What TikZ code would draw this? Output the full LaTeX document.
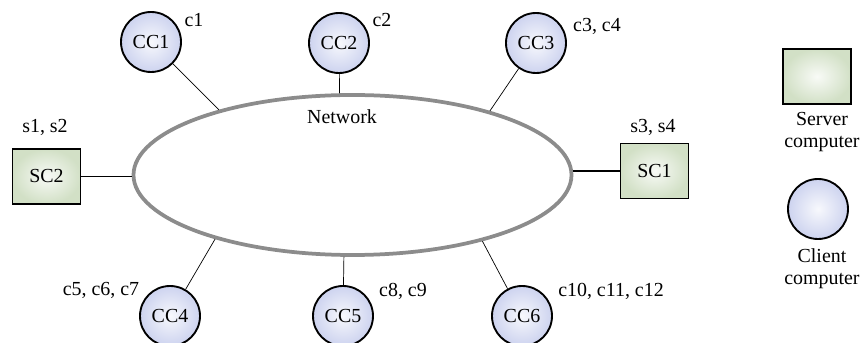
\documentclass[tikz,border=0pt]{standalone}
\usepackage{fontspec}
\setmainfont{Liberation Serif}
\usepackage{xcolor}
\usetikzlibrary{shapes.geometric}
\usetikzlibrary{calc}
\definecolor{clientblue}{RGB}{205,211,239}
\definecolor{servergreen}{RGB}{210,224,198}
\definecolor{netgray}{RGB}{140,140,140}

\begin{document}
\begin{tikzpicture}[x=0.03cm, y=-0.03cm, font=\fontsize{17}{19}\selectfont,
    client/.style={circle, draw=black, line width=1.6pt, inner color=clientblue!15, outer color=clientblue, minimum size=1.8cm, inner sep=0pt},
    server/.style={rectangle, draw=black, line width=1.6pt, inner color=servergreen!15, outer color=servergreen, minimum width=2.04cm, minimum height=1.65cm, inner sep=0pt},
    tag/.style={inner sep=0pt}]
    \useasboundingbox (0,0) rectangle (862,343);
    \node [ellipse, draw=netgray, line width=3.2pt, minimum width=438*0.03cm, minimum height=160*0.03cm] (net) at (352.5,175) {};
    \node [tag] (netlabel) at (342,117) {Network};
    % clients
    \node [client] (cc1) at (151,42) {CC1};
    \node [client] (cc2) at (339,43) {CC2};
    \node [client] (cc3) at (536,43) {CC3};
    \node [client] (cc4) at (170,316) {CC4};
    \node [client] (cc5) at (343,316) {CC5};
    \node [client] (cc6) at (522,316) {CC6};
    % servers
    \node [server] (sc2) at (46.5,176.5) {SC2};
    \node [server] (sc1) at (654.5,171) {SC1};
    \draw [line width=0.6pt] (cc1)--(net.154);
    \draw [line width=0.6pt] (cc2)--(net.99);
    \draw [line width=0.6pt] (cc3)--(net.25);
    \draw [line width=0.6pt] (cc4)--(net.205);
    \draw [line width=0.6pt] (cc5)--(net.264);
    \draw [line width=0.6pt] (cc6)--(net.333);
    \draw [line width=1.2pt] (sc2.east)--(sc2.east -| net.west);
    \draw [line width=1.2pt] (sc1.west)--(sc1.west -| net.east);
    \node [tag] (t1) at (194,20) {c1};
    \node [tag] (t2) at (382,20) {c2};
    \node [tag] (t3) at (597,26) {c3, c4};
    \node [tag] (t4) at (101,290) {c5, c6, c7};
    \node [tag] (t5) at (403,291) {c8, c9};
    \node [tag] (t6) at (611,291) {c10, c11, c12};
    \node [tag] (t7) at (45,127) {s1, s2};
    \node [tag] (t8) at (653,127) {s3, s4};
    % legend
    \node [server] (keyserver) at (817,76.5) {};
    \node [client] (keyclient) at (818,209) {};
    \node [tag, align=center] (keyserverlabel) at (822,132) {Server\\computer};
    \node [tag, align=center] (keyclientlabel) at (822,269) {Client\\computer};
  \end{tikzpicture}
\end{document}
